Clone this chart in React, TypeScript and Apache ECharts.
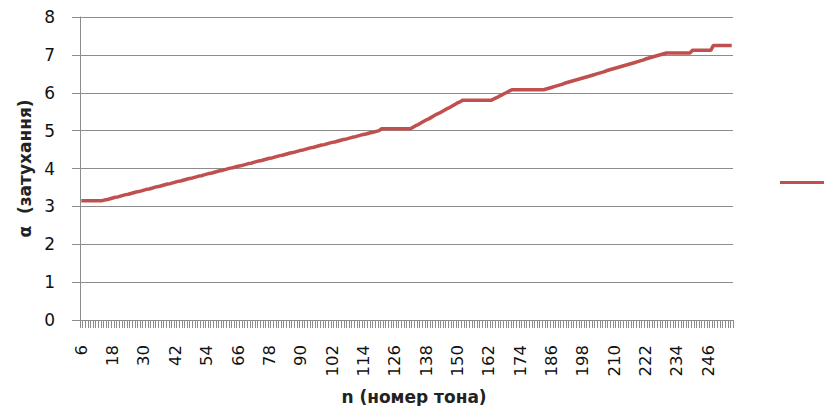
import React, { useEffect, useRef } from "react";
import * as echarts from "echarts";

// n (номер тона): 6 … 255
const categories: string[] = Array.from({ length: 250 }, (_, i) => String(6 + i));

// α (затухання), in n order
const seg1: number[] = [3.15, 3.15, 3.15, 3.15, 3.15, 3.15, 3.15, 3.15, 3.15];
const seg2: number[] = [
  3.17, 3.18, 3.2, 3.22, 3.24, 3.25, 3.27, 3.29, 3.31, 3.32,
  3.34, 3.36, 3.38, 3.39, 3.41, 3.43, 3.45, 3.46, 3.48, 3.5,
  3.52, 3.53, 3.55, 3.57, 3.59, 3.6, 3.62, 3.64, 3.66, 3.67,
  3.69, 3.71, 3.73, 3.74, 3.76, 3.78, 3.8, 3.81, 3.83, 3.85,
  3.87, 3.88, 3.9, 3.92, 3.94, 3.95, 3.97, 3.99, 4.01, 4.02,
  4.04, 4.06, 4.07, 4.09, 4.11, 4.13, 4.14, 4.16, 4.18, 4.2,
  4.21, 4.23, 4.25, 4.27, 4.28, 4.3, 4.32, 4.34, 4.35, 4.37,
  4.39, 4.41, 4.42, 4.44, 4.46, 4.48, 4.49, 4.51, 4.53, 4.55,
  4.56, 4.58, 4.6, 4.62, 4.63, 4.65, 4.67, 4.69, 4.7, 4.72,
  4.74, 4.76, 4.77, 4.79, 4.81, 4.83, 4.84, 4.86, 4.88, 4.9,
  4.91, 4.93, 4.95, 4.96, 4.98, 5.0,
];
const seg3: number[] = [5.05, 5.05, 5.05, 5.05, 5.05, 5.05, 5.05, 5.05, 5.05, 5.05, 5.05, 5.05];
const seg4: number[] = [
  5.09, 5.13, 5.16, 5.2, 5.24, 5.28, 5.31, 5.35, 5.39, 5.43,
  5.46, 5.5, 5.54, 5.58, 5.61, 5.65, 5.69, 5.73, 5.76, 5.8,
];
const seg5: number[] = [5.8, 5.8, 5.8, 5.8, 5.8, 5.8, 5.8, 5.8, 5.8, 5.8, 5.8];
const seg6: number[] = [5.84, 5.87, 5.91, 5.94, 5.98, 6.01, 6.05, 6.08];
const seg7: number[] = [6.08, 6.08, 6.08, 6.08, 6.08, 6.08, 6.08, 6.08, 6.08, 6.08, 6.08, 6.08];
const seg8: number[] = [
  6.1, 6.12, 6.14, 6.16, 6.18, 6.2, 6.22, 6.25, 6.27, 6.29,
  6.31, 6.33, 6.35, 6.37, 6.39, 6.41, 6.43, 6.45, 6.47, 6.49,
  6.51, 6.53, 6.55, 6.58, 6.6, 6.62, 6.64, 6.66, 6.68, 6.7,
  6.72, 6.74, 6.76, 6.78, 6.8, 6.82, 6.84, 6.86, 6.89, 6.91,
  6.93, 6.95, 6.97, 6.99, 7.01, 7.03, 7.05,
];
const seg9: number[] = [7.05, 7.05, 7.05, 7.05, 7.05, 7.05, 7.05, 7.05, 7.05];
const seg10: number[] = [7.12, 7.12, 7.12, 7.12, 7.12, 7.12, 7.12, 7.12];
const seg11: number[] = [7.25, 7.25, 7.25, 7.25, 7.25, 7.25, 7.25, 7.25];

const alphaValues: number[] = [
  ...seg1, ...seg2, ...seg3, ...seg4, ...seg5, ...seg6,
  ...seg7, ...seg8, ...seg9, ...seg10, ...seg11,
];

const yTicks = { min: 0, max: 8, interval: 1 };
const seriesName = "α";

const FONT = "'DejaVu Sans', Verdana, sans-serif";
const GRID_COLOR = "#8c8c8c";

export default function App() {
  const ref = useRef<HTMLDivElement>(null);

  useEffect(() => {
    if (!ref.current) return;
    const chart = echarts.init(ref.current, null, { renderer: "svg" });
    chart.setOption({
      animation: false,
      backgroundColor: "#ffffff",
      textStyle: { fontFamily: FONT },
      grid: {
        left: 80,
        right: 99,
        top: 17,
        bottom: 94,
        containLabel: false,
        outerBoundsMode: "none",
      },
      legend: {
        left: 775,
        top: 170,
        icon: "rect",
        itemWidth: 52,
        itemHeight: 3,
        itemGap: 5,
        textStyle: { fontFamily: FONT, fontSize: 15, color: "#000" },
        data: [seriesName],
      },
      xAxis: {
        type: "category",
        data: categories,
        boundaryGap: true,
        name: "n (номер тона)",
        nameLocation: "middle",
        nameGap: 68,
        nameTextStyle: {
          fontFamily: FONT,
          fontSize: 17,
          fontWeight: "bold",
          color: "#222",
          lineHeight: 18,
          padding: [0, 0, 0, 15],
        },
        axisLine: { lineStyle: { color: GRID_COLOR, width: 1 } },
        axisTick: { show: true, interval: 0, length: 8, lineStyle: { color: GRID_COLOR } },
        axisLabel: {
          interval: 11,
          rotate: 90,
          margin: 25,
          fontFamily: FONT,
          fontSize: 16.5,
          color: "#111",
        },
        splitLine: { show: false },
      },
      yAxis: {
        type: "value",
        min: yTicks.min,
        max: yTicks.max,
        interval: yTicks.interval,
        name: "α  (затухання)",
        nameLocation: "middle",
        nameGap: 46,
        nameTextStyle: { fontFamily: FONT, fontSize: 17, fontWeight: "bold", color: "#222" },
        axisLine: { show: true, lineStyle: { color: GRID_COLOR, width: 1 } },
        axisTick: { show: true, length: 8, lineStyle: { color: GRID_COLOR } },
        axisLabel: { margin: 25, fontFamily: FONT, fontSize: 17, color: "#111" },
        splitLine: { show: true, lineStyle: { color: GRID_COLOR, width: 1 } },
      },
      series: [
        {
          name: seriesName,
          type: "line",
          data: alphaValues,
          showSymbol: false,
          symbol: "none",
          lineStyle: { color: "#C0504D", width: 3.5 },
          itemStyle: { color: "#C0504D" },
        },
      ],
    });
    return () => chart.dispose();
  }, []);

  return <div ref={ref} style={{ width: 832, height: 414, margin: -8 }} />;
}
